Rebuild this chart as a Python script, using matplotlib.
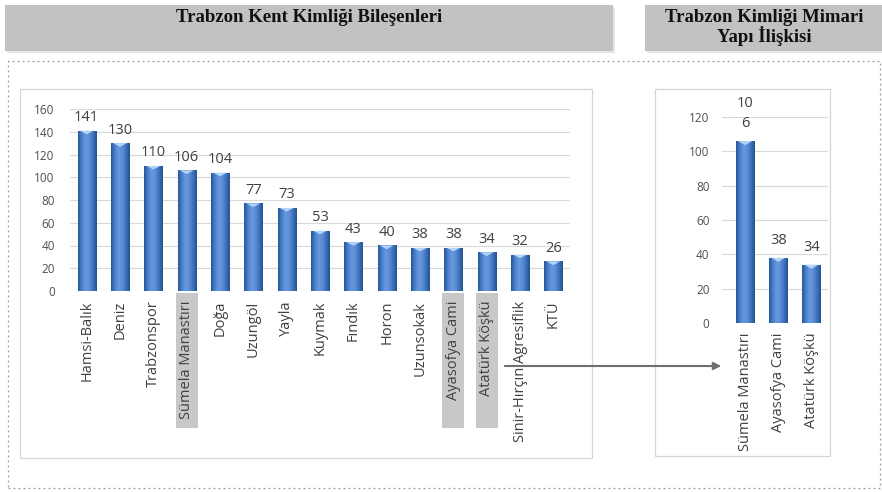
import matplotlib
matplotlib.use("Agg")
import matplotlib.pyplot as plt
import numpy as np
from matplotlib.patches import Rectangle, FancyArrowPatch
from matplotlib.colors import LinearSegmentedColormap
from matplotlib.transforms import blended_transform_factory

# ---- data ----
categories = ["Hamsi-Balık", "Deniz", "Trabzonspor", "Sümela Manastırı", "Doğa",
              "Uzungöl", "Yayla", "Kuymak", "Fındık", "Horon", "Uzunsokak",
              "Ayasofya Cami", "Atatürk Köşkü", "Sinir-Hırçın Agresiflik", "KTÜ"]
values = [141, 130, 110, 106, 104, 77, 73, 53, 43, 40, 38, 38, 34, 32, 26]
highlight = ["Sümela Manastırı", "Ayasofya Cami", "Atatürk Köşkü"]
y_ticks_left = [0, 20, 40, 60, 80, 100, 120, 140, 160]

arch_categories = ["Sümela Manastırı", "Ayasofya Cami", "Atatürk Köşkü"]
arch_values = [106, 38, 34]
arch_labels = ["10\n6", "38", "34"]
y_ticks_right = [0, 20, 40, 60, 80, 100, 120]

title_left = "Trabzon Kent Kimliği Bileşenleri"
title_right = "Trabzon Kimliği Mimari\nYapı İlişkisi"

W, H = 882, 492
fig = plt.figure(figsize=(W / 100, H / 100), dpi=100)
fig.patch.set_facecolor("white")

def fx(px):
    return px / W

def fy(py):
    return 1 - py / H

def add_rect(x0, y0, x1, y1, **kw):
    r = Rectangle((fx(x0), fy(y1)), fx(x1) - fx(x0), fy(y0) - fy(y1),
                  transform=fig.transFigure, **kw)
    fig.add_artist(r)
    return r

# header boxes (with faint shadow)
add_rect(7, 7, 615, 53, facecolor="#e6e6e6", edgecolor="none", zorder=-3)
add_rect(5, 5, 613, 51, facecolor="#c2c2c2", edgecolor="none", zorder=-2)
add_rect(647, 7, 882, 53, facecolor="#e6e6e6", edgecolor="none", zorder=-3)
add_rect(645, 5, 882, 51, facecolor="#c2c2c2", edgecolor="none", zorder=-2)
fig.text(fx(309), fy(17), title_left, ha="center", va="center",
         family="Liberation Serif", fontweight="bold", fontsize=13.5, color="#111111")
fig.text(fx(764), fy(27), title_right, ha="center", va="center",
         family="Liberation Serif", fontweight="bold", fontsize=13.5, color="#111111",
         linespacing=1.0)

# dashed outer frame
add_rect(8, 61, 880, 488, facecolor="none", edgecolor="#9a9a9a",
         linestyle=(0, (1.5, 2.5)), linewidth=0.9, zorder=-3)

# chart panels
add_rect(20, 89, 592, 458, facecolor="white", edgecolor="#d6d6d6", linewidth=0.9, zorder=-2)
add_rect(655, 89, 830, 456, facecolor="white", edgecolor="#d6d6d6", linewidth=0.9, zorder=-2)

cmap = LinearSegmentedColormap.from_list(
    "cyl", ["#24559a", "#4a7fcb", "#6799de", "#5d8fd8", "#3f71bd", "#22528f"])
grad = np.linspace(0, 1, 64).reshape(1, -1)

def draw_bars(ax, vals, width):
    bars = ax.bar(range(len(vals)), vals, width=width, color="#4f81c9",
                  edgecolor="none", zorder=2)
    ymax = ax.get_ylim()[1]
    for b in bars:
        x0, y0 = b.get_x(), b.get_y()
        w, h = b.get_width(), b.get_height()
        im = ax.imshow(grad, extent=(x0, x0 + w, y0, y0 + h), cmap=cmap,
                       aspect="auto", zorder=3, interpolation="bicubic")
        im.set_clip_path(b)
        cap_h = ymax * 0.02
        ax.fill([x0 + w * 0.12, x0 + w * 0.88, x0 + w * 0.5],
                [y0 + h, y0 + h, y0 + h - cap_h],
                color="#b3d4f7", zorder=4, lw=0)
    return bars

def style_axes(ax, yticks, pad):
    for s in ax.spines.values():
        s.set_visible(False)
    ax.set_yticks(yticks)
    ax.yaxis.grid(True, color="#d9d9d9", linewidth=0.8)
    ax.set_axisbelow(True)
    ax.tick_params(axis="y", length=0, labelsize=8.5, labelcolor="#505050", pad=pad)
    ax.tick_params(axis="x", length=0, pad=7)
    for lbl in ax.get_yticklabels():
        lbl.set_family("Open Sans")

# ---- left chart ----
axL = fig.add_axes([fx(70), fy(291), fx(570) - fx(70), fy(109) - fy(291)])
axL.set_xlim(-0.5, len(categories) - 0.5)
axL.set_ylim(0, 160)
axL.set_facecolor("none")
style_axes(axL, y_ticks_left, 11)
draw_bars(axL, values, 0.55)
axL.set_xlim(-0.5, len(categories) - 0.5)
axL.set_ylim(0, 160)
for i, v in enumerate(values):
    axL.annotate(str(v), (i, v), xytext=(0, 4), textcoords="offset points",
                 ha="center", va="bottom", fontsize=10.5, family="Open Sans",
                 color="#404040", zorder=5)
axL.set_xticks(range(len(categories)))
axL.set_xticklabels(categories, rotation=90, fontsize=10.5, family="Open Sans",
                    color="#404040")

# grey highlight boxes behind selected labels
trans = blended_transform_factory(axL.transData, fig.transFigure)
box_w = 0.66
for name in highlight:
    i = categories.index(name)
    r = Rectangle((i - box_w / 2, fy(428)), box_w, fy(293) - fy(428),
                  transform=trans, facecolor="#c8c8c8", edgecolor="none",
                  zorder=-1, clip_on=False)
    fig.add_artist(r)

# ---- right chart ----
axR = fig.add_axes([fx(722), fy(323), fx(828) - fx(722), fy(117) - fy(323)])
axR.set_xlim(-0.7, len(arch_categories) - 0.5)
axR.set_ylim(0, 120)
axR.set_facecolor("none")
style_axes(axR, y_ticks_right, 9)
draw_bars(axR, arch_values, 0.56)
axR.set_xlim(-0.7, len(arch_categories) - 0.5)
axR.set_ylim(0, 120)
for i, (v, t) in enumerate(zip(arch_values, arch_labels)):
    axR.annotate(t, (i, v), xytext=(0, 7), textcoords="offset points",
                 ha="center", va="bottom", fontsize=10.5, family="Open Sans",
                 color="#404040", zorder=5, linespacing=1.45)
axR.set_xticks(range(len(arch_categories)))
axR.set_xticklabels(arch_categories, rotation=90, fontsize=10.5, family="Open Sans",
                    color="#404040")

# arrow linking highlighted labels to the right chart
fig.add_artist(FancyArrowPatch(
    (fx(502), fy(366)), (fx(724), fy(366)), transform=fig.transFigure,
    arrowstyle="-|>", mutation_scale=11, color="#6f6f6f", linewidth=1.5, zorder=6))

fig.savefig("out.png", dpi=100, facecolor="white")
